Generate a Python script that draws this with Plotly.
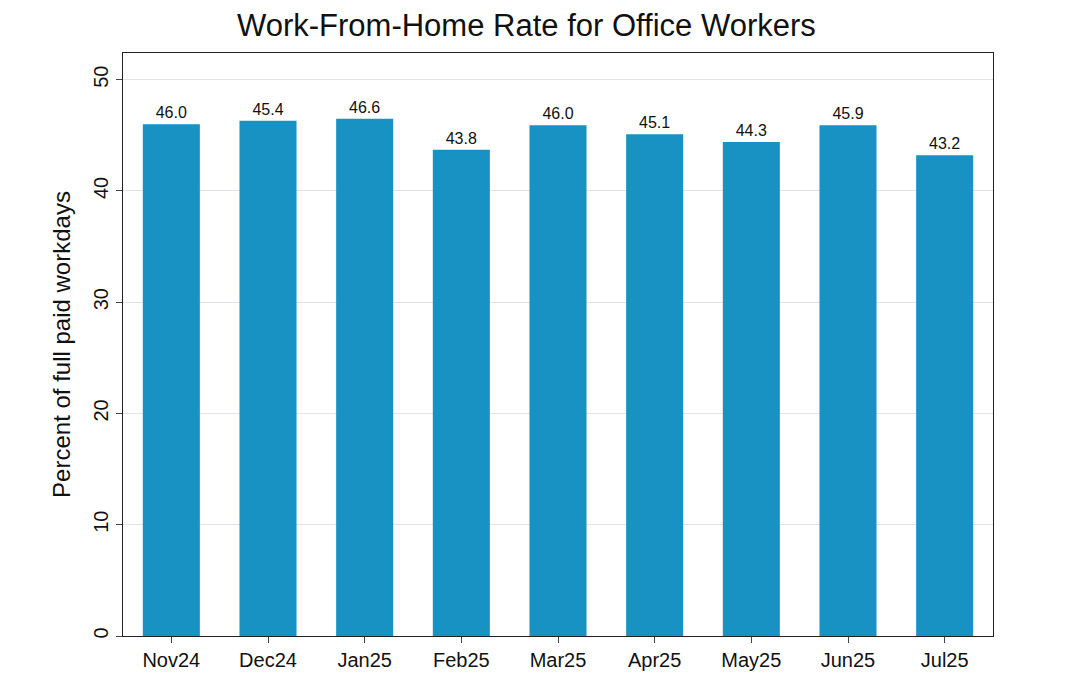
import plotly.graph_objects as go

months = ["Nov24", "Dec24", "Jan25", "Feb25", "Mar25", "Apr25", "May25", "Jun25", "Jul25"]
bar_values = [46.0, 46.3, 46.5, 43.7, 45.9, 45.1, 44.4, 45.9, 43.2]
label_text = ["46.0", "45.4", "46.6", "43.8", "46.0", "45.1", "44.3", "45.9", "43.2"]
y_ticks = [0, 10, 20, 30, 40, 50]

fig = go.Figure()
fig.add_trace(go.Bar(
    x=months, y=bar_values,
    marker=dict(color="#1891c3", line=dict(width=0)),
    text=label_text, textposition="outside",
    textfont=dict(size=16, color="#111"),
    cliponaxis=False,
))

fig.update_layout(
    width=1080, height=675,
    margin=dict(l=115, r=95, t=45, b=40),
    paper_bgcolor="white", plot_bgcolor="white",
    font=dict(family="Liberation Sans, Arial, sans-serif", color="#111"),
    title=dict(text="Work-From-Home Rate for Office Workers", x=0.48, xanchor="center",
               y=0.975, yanchor="middle", font=dict(size=31)),
    bargap=0.41,
    showlegend=False,
)
fig.update_xaxes(showline=True, linecolor="#222", linewidth=1, mirror=True,
                 ticks="outside", ticklen=6, tickfont=dict(size=20))
fig.update_yaxes(range=[0, 52.4], tickvals=y_ticks, tickangle=-90,
                 title=dict(text="Percent of full paid workdays", font=dict(size=24), standoff=12),
                 tickfont=dict(size=20), ticks="outside", ticklen=6,
                 showline=True, linecolor="#222", linewidth=1, mirror=True,
                 showgrid=True, gridcolor="#e3e3e3", zeroline=False)

fig.write_html("out.html")
